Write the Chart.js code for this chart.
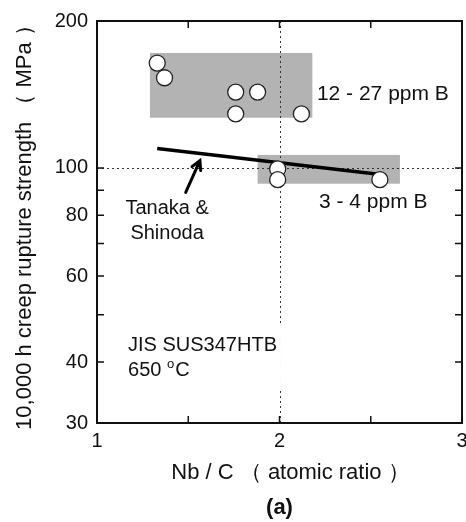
<!DOCTYPE html>
<html>
<head>
<meta charset="utf-8">
<script src="https://cdn.jsdelivr.net/npm/chart.js@4/dist/chart.umd.min.js"></script>
<style>
  html, body { margin: 0; padding: 0; background: #fff; }
  #wrap { width: 466px; height: 522px; position: relative; }
</style>
</head>
<body>
<div id="wrap"><canvas id="creepChart"></canvas></div>
<script>
// Datos
const nbC_high = [1.33, 1.37, 1.76, 1.88, 1.76, 2.12];   // 12 - 27 ppm B
const str_high = [164, 153, 143, 143, 129, 129];
const nbC_low = [1.99, 1.99, 2.55];                       // 3 - 4 ppm B
const str_low = [99.5, 94.6, 94.6];
const tanakaX = [1.33, 2.53];
const tanakaY = [109.6, 97.2];
const boxHighX = [1.29, 2.18];
const boxHighY = [126.7, 172];
const boxLowX = [1.88, 2.66];
const boxLowY = [92.8, 106.3];
const yTicks = [30, 40, 50, 60, 70, 80, 90, 100, 200];
const yLabels = [30, 40, 60, 80, 100, 200];
const xTicks = [1, 1.5, 2, 2.5, 3];
const xLabels = [1, 2, 3];
const xTitle = 'Nb / C （ atomic ratio ）';

const FONT = '"Liberation Sans", Arial, sans-serif';
Chart.defaults.font.family = FONT;
Chart.defaults.color = '#111';

function toPts(xs, ys) {
    return xs.map((x, i) => ({ x: x, y: ys[i] }));
}

// Cajas grises, líneas punteadas, marco y textos
const backdrop = {
    id: 'backdrop',
    beforeDatasetsDraw(chart) {
        const { ctx, chartArea: a, scales: { x, y } } = chart;
        ctx.save();
        ctx.fillStyle = '#b3b3b3';
        [[boxHighX, boxHighY], [boxLowX, boxLowY]].forEach(([bx, by]) => {
            const x0 = x.getPixelForValue(bx[0]), x1 = x.getPixelForValue(bx[1]);
            const y0 = y.getPixelForValue(by[1]), y1 = y.getPixelForValue(by[0]);
            ctx.fillRect(x0, y0, x1 - x0, y1 - y0);
        });
        ctx.strokeStyle = '#333';
        ctx.lineWidth = 1;
        ctx.setLineDash([2, 3]);
        const gx = Math.round(x.getPixelForValue(2)) + 0.5;
        const gy = Math.round(y.getPixelForValue(100)) + 0.5;
        ctx.beginPath();
        ctx.moveTo(gx, a.top); ctx.lineTo(gx, a.bottom);
        ctx.moveTo(a.left, gy); ctx.lineTo(a.right, gy);
        ctx.stroke();
        ctx.restore();
    },
    afterDatasetsDraw(chart) {
        const { ctx, chartArea: a, scales: { x, y } } = chart;
        ctx.save();
        // marco
        ctx.strokeStyle = '#111';
        ctx.lineWidth = 2;
        ctx.strokeRect(a.left, a.top, a.right - a.left, a.bottom - a.top);
        ctx.lineWidth = 1.5;
        ctx.beginPath();
        yTicks.forEach(v => {
            const py = y.getPixelForValue(v);
            ctx.moveTo(a.left, py); ctx.lineTo(a.left + 7, py);
            ctx.moveTo(a.right, py); ctx.lineTo(a.right - 7, py);
        });
        xTicks.forEach(v => {
            const px = x.getPixelForValue(v);
            ctx.moveTo(px, a.top); ctx.lineTo(px, a.top + 7);
            ctx.moveTo(px, a.bottom); ctx.lineTo(px, a.bottom - 7);
        });
        ctx.stroke();

        // título del eje x
        ctx.fillStyle = '#111';
        ctx.font = '22px ' + FONT;
        ctx.textAlign = 'center';
        ctx.textBaseline = 'middle';
        ctx.fillText(xTitle, x.getPixelForValue(2) + 11, a.bottom + 50);

        // flecha
        const tx = x.getPixelForValue(1.486), ty = y.getPixelForValue(89.1);
        const hx = x.getPixelForValue(1.564), hy = y.getPixelForValue(103.5);
        const ang = Math.atan2(hy - ty, hx - tx);
        ctx.strokeStyle = '#000';
        ctx.lineWidth = 3;
        ctx.lineCap = 'round';
        ctx.beginPath();
        ctx.moveTo(tx, ty); ctx.lineTo(hx, hy);
        ctx.moveTo(hx - 10 * Math.cos(ang - 0.5), hy - 10 * Math.sin(ang - 0.5));
        ctx.lineTo(hx, hy);
        ctx.lineTo(hx - 10 * Math.cos(ang + 0.5), hy - 10 * Math.sin(ang + 0.5));
        ctx.stroke();

        // textos
        ctx.font = '21px ' + FONT;
        ctx.textAlign = 'left';
        ctx.fillText('12 - 27 ppm B', x.getPixelForValue(2.205), y.getPixelForValue(141.8));
        ctx.fillText('3 - 4 ppm B', x.getPixelForValue(2.216), y.getPixelForValue(84.9));
        ctx.font = '20px ' + FONT;
        ctx.textAlign = 'center';
        ctx.fillText('Tanaka &', x.getPixelForValue(1.384), y.getPixelForValue(82.6));
        ctx.fillText('Shinoda', x.getPixelForValue(1.384), y.getPixelForValue(73.3));

        const jx = x.getPixelForValue(1.17);
        const jy1 = y.getPixelForValue(43.3), jy2 = y.getPixelForValue(38.5);
        ctx.textAlign = 'left';
        const w = ctx.measureText('JIS SUS347HTB').width;
        ctx.fillStyle = '#fff';
        ctx.fillRect(jx - 2, jy1 - 20, w + 6, jy2 - jy1 + 40);
        ctx.fillStyle = '#111';
        ctx.fillText('JIS SUS347HTB', jx, jy1);
        ctx.fillText('650', jx, jy2);
        let cx = jx + ctx.measureText('650 ').width;
        ctx.font = '13px ' + FONT;
        ctx.fillText('o', cx, jy2 - 6);
        cx += ctx.measureText('o').width + 1;
        ctx.font = '20px ' + FONT;
        ctx.fillText('C', cx, jy2);

        ctx.font = 'bold 22px ' + FONT;
        ctx.textAlign = 'center';
        ctx.fillText('(a)', x.getPixelForValue(2), 508);
        ctx.restore();
    }
};

const chart = new Chart(document.getElementById('creepChart'), {
    type: 'scatter',
    data: {
        datasets: [{
            label: '12 - 27 ppm B',
            data: toPts(nbC_high, str_high),
            pointRadius: 8,
            pointBackgroundColor: '#fff',
            pointBorderColor: '#222',
            pointBorderWidth: 1.3,
            order: 0
        }, {
            label: '3 - 4 ppm B',
            data: toPts(nbC_low, str_low),
            pointRadius: 8,
            pointBackgroundColor: '#fff',
            pointBorderColor: '#222',
            pointBorderWidth: 1.3,
            order: 0
        }, {
            label: 'Tanaka & Shinoda',
            type: 'line',
            data: toPts(tanakaX, tanakaY),
            borderColor: '#000',
            borderWidth: 3.5,
            pointRadius: 0,
            order: 1
        }]
    },
    options: {
        responsive: true,
        maintainAspectRatio: false,
        animation: false,
        layout: {
            autoPadding: false,
            padding: { left: 0, right: 4, top: 20, bottom: 0 }
        },
        scales: {
            x: {
                type: 'linear',
                min: 1,
                max: 3,
                // el "3" queda recortado en el borde, como en el original
                afterFit: s => { s.height = 99; s.paddingLeft = 0; s.paddingRight = 0; },
                afterBuildTicks: s => { s.ticks = xTicks.map(v => ({ value: v })); },
                grid: { display: false, drawTicks: false },
                border: { display: false },
                ticks: {
                    padding: 6,
                    color: '#111',
                    font: { size: 20 },
                    maxRotation: 0,
                    autoSkip: false,
                    callback: v => xLabels.includes(v) ? String(v) : ''
                }
            },
            y: {
                type: 'logarithmic',
                min: 30,
                max: 200,
                afterFit: s => { s.width = 97; },
                afterBuildTicks: s => { s.ticks = yTicks.map(v => ({ value: v })); },
                grid: { display: false, drawTicks: false },
                border: { display: false },
                ticks: {
                    padding: 9,
                    color: '#111',
                    font: { size: 20 },
                    autoSkip: false,
                    callback: v => yLabels.includes(v) ? String(v) : ''
                },
                title: {
                    display: true,
                    text: '10,000 h creep rupture strength （ MPa ）',
                    color: '#111',
                    font: { size: 22 },
                    padding: { top: 12, bottom: 0 }
                }
            }
        },
        plugins: {
            legend: { display: false },
            tooltip: { enabled: false }
        }
    },
    plugins: [backdrop]
});
</script>
</body>
</html>
